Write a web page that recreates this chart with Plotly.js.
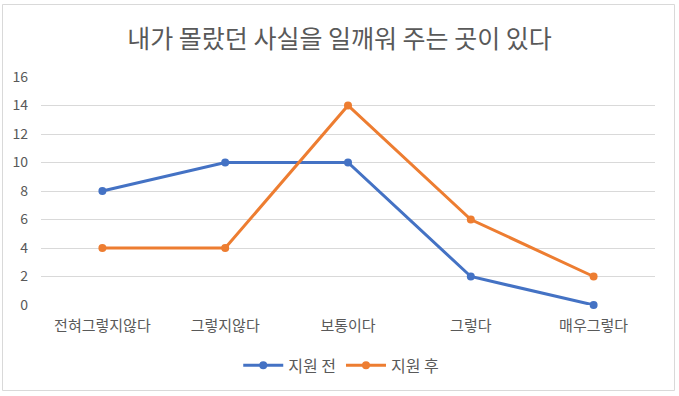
<!DOCTYPE html>
<html><head><meta charset="utf-8">
<script src="https://cdn.plot.ly/plotly-3.0.1.min.js"></script>
<style>body{margin:0;padding:0;background:#fff}</style>
</head><body>
<div id="chart" style="width:679px;height:396px"></div>
<script>
const categories = ['전혀그렇지않다','그렇지않다','보통이다','그렇다','매우그렇다'];
const before = [8, 10, 10, 2, 0];
const after = [4, 4, 14, 6, 2];
const seriesNames = ['지원 전','지원 후'];
const yTicks = [0,2,4,6,8,10,12,14,16];

const font = "'Noto Sans CJK KR', 'Noto Sans', sans-serif";
const traces = [
  {x: categories, y: before, name: seriesNames[0], type:'scatter', mode:'lines+markers', cliponaxis:false,
   line:{color:'#4472C4', width:3}, marker:{color:'#4472C4', size:8}},
  {x: categories, y: after, name: seriesNames[1], type:'scatter', mode:'lines+markers', cliponaxis:false,
   line:{color:'#ED7D31', width:3}, marker:{color:'#ED7D31', size:8}}
];
const W = 614, H = 228;
const layout = {
  width:679, height:396,
  margin:{l:41, r:24, t:77, b:91},
  paper_bgcolor:'#fff', plot_bgcolor:'#fff',
  font:{family:font, color:'#595959', size:12},
  title:{text:'내가 몰랐던 사실을 일깨워 주는 곳이 있다', font:{family:font, size:25, color:'#595959'},
         x:0.5, xanchor:'center', y:0.9, yref:'container', yanchor:'middle'},
  xaxis:{type:'category', range:[-0.5,4.5], showgrid:false, zeroline:false, showline:false,
         ticks:'', ticklabelstandoff:10, tickfont:{size:15, color:'#595959'}, fixedrange:true},
  yaxis:{range:[0,16], tickvals:yTicks, showgrid:true, gridcolor:'#d9d9d9', gridwidth:1,
         zeroline:false, showline:false, ticks:'', ticklabelstandoff:12,
         tickfont:{size:14, color:'#595959'}, fixedrange:true},
  showlegend:true,
  legend:{orientation:'h', x:0.489, xanchor:'center', y:-0.265, yanchor:'middle',
          font:{size:16, color:'#595959'}, itemwidth:40},
  shapes:[{type:'rect', xref:'paper', yref:'paper',
    x0:(2.5-41)/W, x1:(674.5-41)/W, y0:(305-390.5)/H, y1:(305-4.5)/H,
    line:{color:'#d9d9d9', width:1}, fillcolor:'rgba(0,0,0,0)', layer:'below'}]
};
Plotly.newPlot('chart', traces, layout, {displayModeBar:false, staticPlot:true});
</script>
</body></html>
